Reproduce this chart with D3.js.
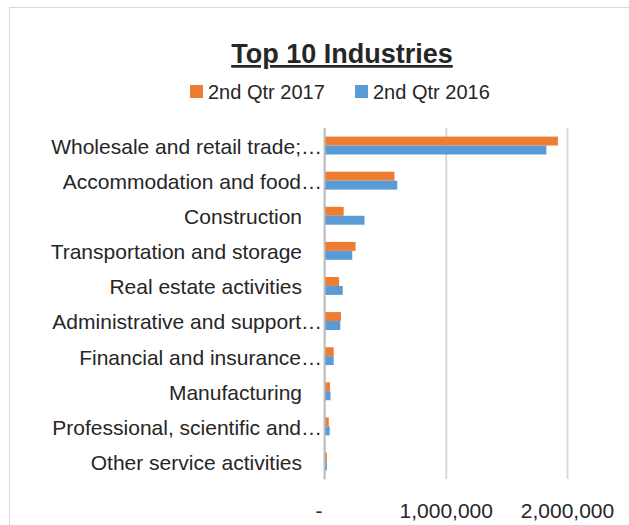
<!DOCTYPE html>
<html>
<head>
<meta charset="utf-8">
<script src="https://cdn.jsdelivr.net/npm/d3@7"></script>
<style>
  body { margin: 0; background: #fff; }
  text { font-family: "Liberation Sans", Arial, sans-serif; fill: #262626; }
</style>
</head>
<body>
<svg id="canvas" width="629" height="525"></svg>
<script>
let industries = [
  'Wholesale and retail trade;…',
  'Accommodation and food…',
  'Construction',
  'Transportation and storage',
  'Real estate activities',
  'Administrative and support…',
  'Financial and insurance…',
  'Manufacturing',
  'Professional, scientific and…',
  'Other service activities'
]
let seriesNames = ['2nd Qtr 2017', '2nd Qtr 2016']
let qtr2017 = [1925000, 577000, 158000, 256000, 120000, 136000, 76000, 45000, 35000, 20000]
let qtr2016 = [1830000, 600000, 330000, 229000, 150000, 130000, 76000, 50000, 43000, 20000]
let xTicks = [0, 1000000, 2000000]
let colors = ['#ED7D31', '#5B9BD5']

let canvas = d3.select('#canvas')

// chart border
canvas.append('rect')
  .attr('x', 9.5).attr('y', 7.5)
  .attr('width', 640).attr('height', 540)
  .attr('fill', 'none')
  .attr('stroke', '#d9d9d9')

let xScale = d3.scaleLinear()
  .domain([0, 2000000])
  .range([324.5, 567])

let yScale = d3.scaleBand()
  .domain(industries)
  .range([128, 479])
  .paddingInner(0.49)
  .paddingOuter(0.245)

let innerScale = d3.scaleBand()
  .domain(seriesNames)
  .range([0, yScale.bandwidth()])

// gridlines
let grid = canvas.append('g')
  .attr('transform', 'translate(0, 479)')
  .call(d3.axisBottom(xScale).tickValues(xTicks).tickSize(-351).tickFormat(''))
grid.select('.domain').remove()
grid.selectAll('.tick line').attr('stroke', '#d9d9d9').attr('stroke-width', 2)

// tick labels
let axis = canvas.append('g')
  .attr('transform', 'translate(0, 479)')
  .call(d3.axisBottom(xScale).tickValues(xTicks).tickSize(0).tickPadding(24)
    .tickFormat((d) => d === 0 ? '-' : d3.format(',')(d)))
axis.select('.domain').remove()
axis.selectAll('text')
  .style('font-size', '21px')
  .attr('fill', '#262626')
  .attr('dx', (d) => d === 0 ? -6 : 0)

// bars
let rows = industries.map((name, i) => {
  return { name: name, values: [qtr2017[i], qtr2016[i]] }
})

let group = canvas.selectAll('.row')
  .data(rows)
  .enter()
  .append('g')
  .attr('class', 'row')
  .attr('transform', (d) => 'translate(0, ' + yScale(d.name) + ')')

group.selectAll('rect')
  .data((d) => d.values.map((v, j) => ({ series: seriesNames[j], value: v, color: colors[j] })))
  .enter()
  .append('rect')
  .attr('x', xScale(0))
  .attr('y', (d) => innerScale(d.series))
  .attr('width', (d) => xScale(d.value) - xScale(0))
  .attr('height', innerScale.bandwidth())
  .attr('fill', (d) => d.color)

// category axis
let yAxis = canvas.append('g')
  .attr('transform', 'translate(324, 0)')
  .call(d3.axisLeft(yScale).tickSize(0).tickPadding(22))
yAxis.select('.domain').attr('stroke', '#bfbfbf').attr('stroke-width', 2)
yAxis.selectAll('text')
  .style('font-size', '21px')
  .attr('fill', '#262626')
  .attr('dy', '0.4em')
  // Excel lets the ellipsis run closer to the axis
  .attr('x', (d) => d.endsWith('…') ? -2 : -22)

// title
canvas.append('text')
  .attr('x', 342)
  .attr('y', 63)
  .attr('text-anchor', 'middle')
  .style('font-size', '27px')
  .style('font-weight', 'bold')
  .style('text-decoration', 'underline')
  .attr('fill', '#000')
  .text('Top 10 Industries')

// legend
let legendX = [190, 355]
let legend = canvas.selectAll('.legend')
  .data(seriesNames)
  .enter()
  .append('g')
  .attr('class', 'legend')
  .attr('transform', (d, i) => 'translate(' + legendX[i] + ', 85)')

legend.append('rect')
  .attr('width', 13).attr('height', 13)
  .attr('fill', (d, i) => colors[i])

legend.append('text')
  .attr('x', 18)
  .attr('y', 14)
  .style('font-size', '20px')
  .text((d) => d)
</script>
</body>
</html>
